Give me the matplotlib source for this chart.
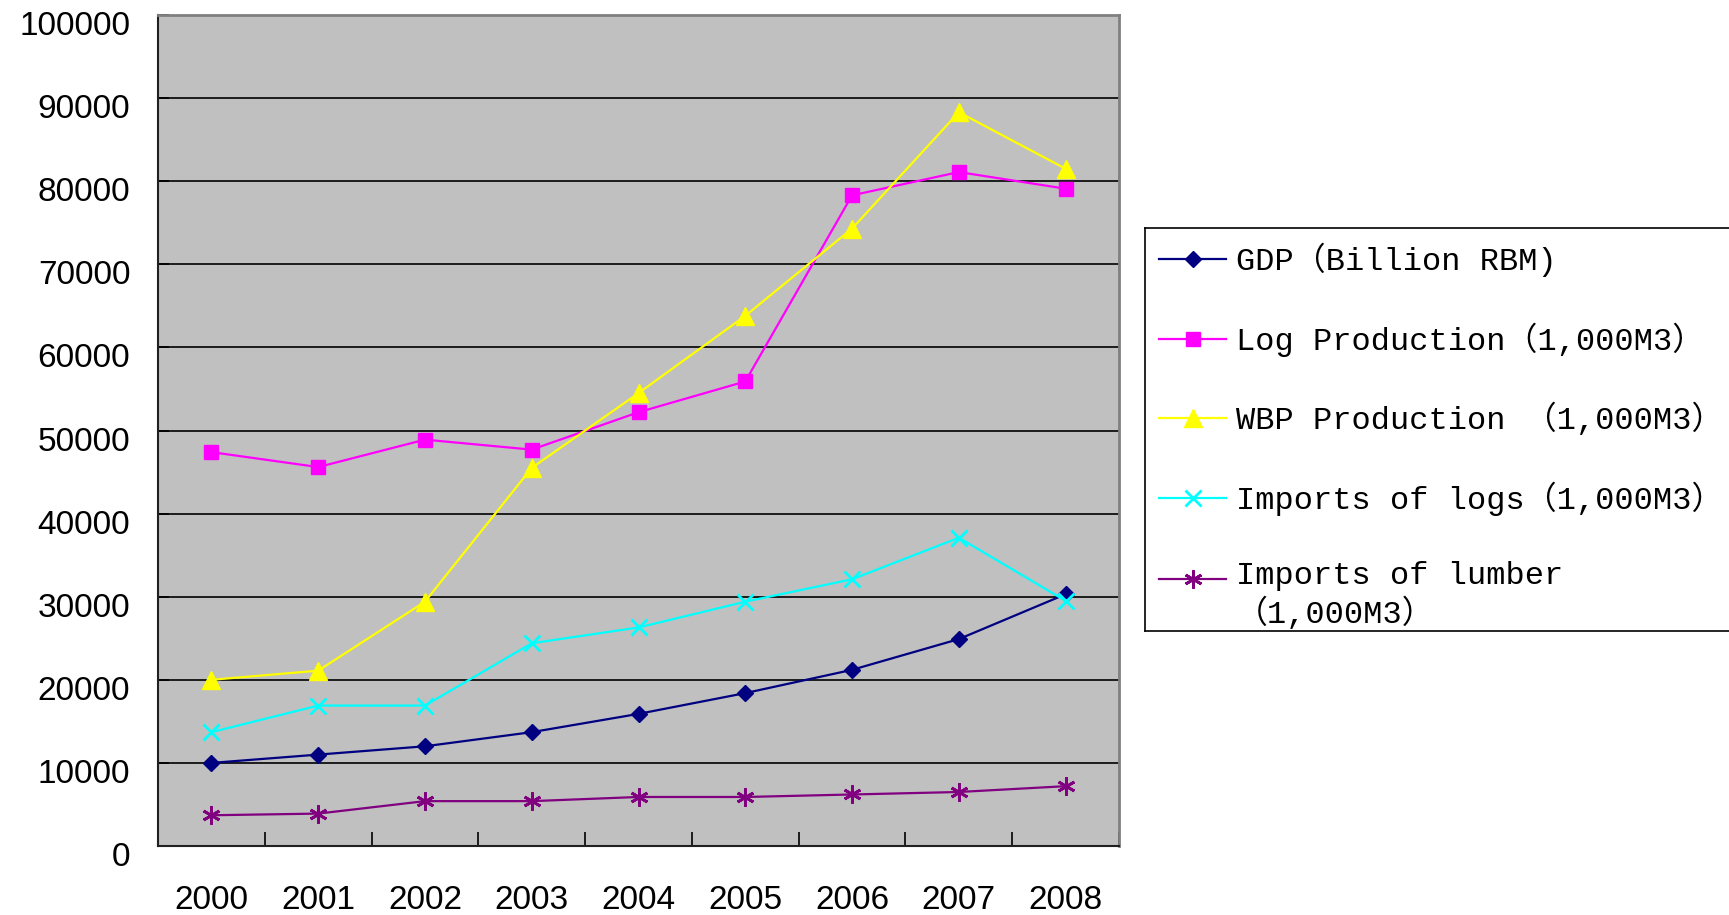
import matplotlib.pyplot as plt
import matplotlib.transforms as mtransforms
from matplotlib.legend_handler import HandlerLine2D
import numpy as np

years = ["2000", "2001", "2002", "2003", "2004", "2005", "2006", "2007", "2008"]

gdp = [10000, 11000, 12000, 13700, 15900, 18400, 21200, 24900, 30300]
log_prod = [47400, 45600, 48900, 47700, 52200, 55900, 78300, 81100, 79100]
wbp_prod = [20000, 21100, 29400, 45500, 54500, 63800, 74300, 88300, 81500]
imp_logs = [13700, 16900, 16900, 24400, 26300, 29400, 32100, 37100, 29500]
imp_lumber = [3700, 3900, 5400, 5400, 5900, 5900, 6200, 6500, 7200]

labels = [
    "GDP（Billion RBM)",
    "Log Production（1,000M3）",
    "WBP Production （1,000M3）",
    "Imports of logs（1,000M3）",
    "Imports of lumber\n（1,000M3）",
]


class RaisedHandler(HandlerLine2D):
    # puts the handle level with the first line of a two-line label
    def __init__(self, dy, **kw):
        super().__init__(**kw)
        self.dy = dy

    def create_artists(self, *args, **kwargs):
        arts = super().create_artists(*args, **kwargs)
        for a in arts:
            a.set_ydata(np.asarray(a.get_ydata()) + self.dy)
        return arts


fig = plt.figure(figsize=(17.29, 9.15), dpi=100)
ax = fig.add_axes([0.0914, 0.0754, 0.5558, 0.9082])
ax.set_facecolor("#C0C0C0")

x = np.arange(len(years))
lw = 1.6
ax.plot(x, gdp, color="#000080", marker="D", ms=8.5, lw=lw, label=labels[0], zorder=3)
ax.plot(x, log_prod, color="#FF00FF", marker="s", ms=10, lw=lw, label=labels[1], zorder=3)
ax.plot(x, wbp_prod, color="#FFFF00", marker="^", ms=12.5, lw=lw, label=labels[2], zorder=3)
ax.plot(x, imp_logs, color="#00FFFF", marker="x", ms=11, mew=2, lw=lw, label=labels[3], zorder=3)
lumber_line, = ax.plot(x, imp_lumber, color="#800080", marker=(6, 2, 0), ms=13, mew=2, lw=lw,
                       label=labels[4], zorder=3)

ax.set_xlim(-0.5, 8.5)
ax.set_ylim(0, 100000)
ax.set_yticks(np.arange(0, 100001, 10000))
ax.set_xticks(x)
ax.set_xticklabels(years)
ax.set_xticks(np.arange(-0.5, 9, 1), minor=True)
ax.tick_params(axis="x", which="major", length=0, pad=28, labelsize=24)
ax.tick_params(axis="x", which="minor", direction="in", length=10, width=1.2, color="#000000")
ax.tick_params(axis="y", direction="in", length=8, width=1.2, pad=20, labelsize=24)
shift = mtransforms.ScaledTranslation(0, -0.08, fig.dpi_scale_trans)
for t in ax.get_yticklabels():
    t.set_transform(t.get_transform() + shift)
for t in ax.get_xticklabels() + ax.get_yticklabels():
    t.set_family("Liberation Sans")

ax.grid(axis="y", color="#000000", lw=1.2)
ax.set_axisbelow(True)
for s in ["top", "right"]:
    ax.spines[s].set_color("#808080")
    ax.spines[s].set_linewidth(2)
for s in ["left", "bottom"]:
    ax.spines[s].set_color("#202020")
    ax.spines[s].set_linewidth(1.5)

# legend box (runs off the right edge and cuts the last entry like the original)
lax = fig.add_axes([1145 / 1729, 1 - 631 / 915, (1729 + 20 - 1145) / 1729, (631 - 228) / 915])
lax.set_xticks([])
lax.set_yticks([])
for s in lax.spines.values():
    s.set_color("#000000")
    s.set_linewidth(1.2)

handles, labs = ax.get_legend_handles_labels()
leg = lax.legend(
    handles,
    labs,
    loc="upper left",
    borderaxespad=0.2,
    prop={"family": ["Liberation Mono", "Noto Sans CJK SC"], "size": 23},
    handlelength=2.1,
    handletextpad=0.3,
    labelspacing=1.43,
    borderpad=0.25,
    frameon=False,
    handler_map={lumber_line: RaisedHandler(12)},
)
for t in leg.get_texts():
    t.set_clip_box(lax.bbox)

fig.savefig("out.png", dpi=100)
